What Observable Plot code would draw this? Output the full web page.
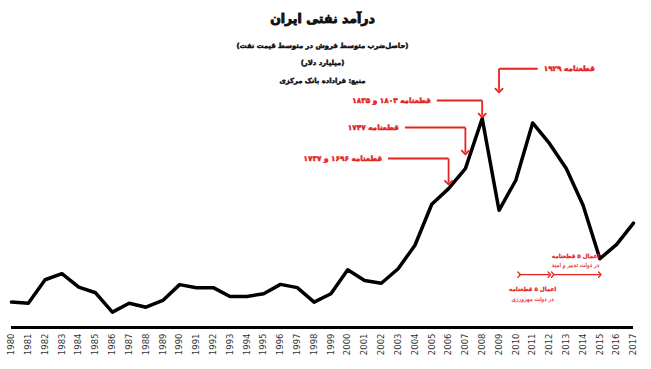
<!DOCTYPE html>
<html><head><meta charset="utf-8">
<script src="https://cdn.jsdelivr.net/npm/d3@7"></script>
<script src="https://cdn.jsdelivr.net/npm/@observablehq/plot@0.6"></script>
<style>body{margin:0;background:#fff;}</style>
</head><body><div id="chart"></div>
<script>
// Data: Iran oil revenue (billion USD)
const years = [1980,1981,1982,1983,1984,1985,1986,1987,1988,1989,1990,1991,1992,1993,1994,1995,1996,1997,1998,1999,2000,2001,2002,2003,2004,2005,2006,2007,2008,2009,2010,2011,2012,2013,2014,2015,2016,2017];
const revenue = [10.9,10.4,20.5,23.1,17.3,14.9,6.6,10.4,8.7,11.6,18.4,17.1,17.1,13.3,13.3,14.5,18.5,17.1,10.9,14.5,24.8,20.2,19.0,25.2,35.3,52.9,59.6,68.2,89.7,50.3,63.2,87.8,79.0,68.2,52.5,29.5,35.7,44.8];

const titleText = "درآمد نفتی ایران";
const subtitleLines = ["(حاصل‌ضرب متوسط فروش در متوسط قیمت نفت)", "(میلیارد دلار)", "منبع: فراداده بانک مرکزی"];

// Resolution annotations
const resolutionLabels = ["قطعنامه ۱۹۲۹", "قطعنامه ۱۸۰۳ و ۱۸۳۵", "قطعنامه ۱۷۴۷", "قطعنامه ۱۶۹۶ و ۱۷۳۷"];
const resolutionTargetYears = [2009, 2008, 2007, 2006];
const resolutionLabelYears = [2011.3, 2005.3, 2003.4, 2002.4];
const resolutionLabelLevels = [111, 97.4, 85.8, 72.5];
const resolutionTipLevels = [101.7, 91, 75.1, 62.2];

// Government periods
const periodStart = [2010.2, 2012.2];
const periodEnd = [2012, 2015];
const periodLevel = [22.7, 22.7];
const periodLine1 = ["اعمال ۵ قطعنامه", "اعمال ۵ قطعنامه"];
const periodLine2 = ["در دولت مهرورزی", "در دولت تدبیر و امید"];
const periodTextYear = [2011.0, 2013.55];
const periodTextLevels1 = [16.3, 30.5];
const periodTextLevels2 = [12.0, 26.6];

const data = years.map((y, i) => ({year: y, value: revenue[i]}));
const ann = resolutionLabels.map((l, i) => ({label: l, target: resolutionTargetYears[i], from: resolutionLabelYears[i], level: resolutionLabelLevels[i], tip: resolutionTipLevels[i]}));
const per = periodStart.map((s, i) => ({from: s, to: periodEnd[i], level: periodLevel[i], l1: periodLine1[i], l2: periodLine2[i], tx: periodTextYear[i], ty1: periodTextLevels1[i], ty2: periodTextLevels2[i]}));

const red = "#e3241f";
const ink = "#111";
const font = "DejaVu Sans";

const chart = Plot.plot({
  width: 651,
  height: 369,
  marginLeft: 11,
  marginRight: 18,
  marginTop: 94,
  marginBottom: 42,
  style: {fontFamily: font, background: "#fff", overflow: "visible"},
  x: {domain: [1980, 2017], label: null},
  y: {domain: [0, 100], axis: null},
  marks: [
    Plot.axisX({ticks: years, tickFormat: "d", tickRotate: -90, tickSize: 0, tickPadding: 6, fontSize: 8.5, fill: "#333", label: null}),
    Plot.ruleY([0], {stroke: "black", strokeWidth: 3}),
    Plot.line(data, {x: "year", y: "value", stroke: "black", strokeWidth: 3.5}),
    // resolution arrows
    Plot.link(ann, {x1: "from", x2: "target", y1: "level", y2: "level", stroke: red, strokeWidth: 2}),
    Plot.link(ann, {x1: "target", x2: "target", y1: "level", y2: "tip", stroke: red, strokeWidth: 1.8, markerEnd: "arrow"}),
    Plot.text(ann.slice(0, 1), {x: "from", y: "level", text: "label", textAnchor: "start", dx: 6, fill: red, stroke: red, strokeWidth: 0.5, fontWeight: "bold", fontSize: 7.3}),
    Plot.text(ann.slice(1), {x: "from", y: "level", text: "label", textAnchor: "end", dx: -6, fill: red, stroke: red, strokeWidth: 0.5, fontWeight: "bold", fontSize: 7.3}),
    // period arrows
    Plot.link(per, {x1: "from", x2: "to", y1: "level", y2: "level", stroke: red, strokeWidth: 1.3, markerStart: "arrow", markerEnd: "arrow"}),
    Plot.text(per, {x: "tx", y: "ty1", text: "l1", fill: red, stroke: red, strokeWidth: 0.25, fontWeight: "bold", fontSize: 5.6}),
    Plot.text(per, {x: "tx", y: "ty2", text: "l2", fill: red, stroke: red, strokeWidth: 0.15, fontSize: 5.6}),
    // titles
    Plot.text([titleText], {frameAnchor: "top", lineAnchor: "middle", dy: -76, fontSize: 12.5, fontWeight: "bold", fill: ink, stroke: ink, strokeWidth: 0.9}),
    Plot.text([subtitleLines[0]], {frameAnchor: "top", lineAnchor: "middle", dy: -49, fontSize: 6.8, fontWeight: "bold", fill: ink, stroke: ink, strokeWidth: 0.5}),
    Plot.text([subtitleLines[1]], {frameAnchor: "top", lineAnchor: "middle", dy: -32, fontSize: 6.8, fontWeight: "bold", fill: ink, stroke: ink, strokeWidth: 0.5}),
    Plot.text([subtitleLines[2]], {frameAnchor: "top", lineAnchor: "middle", dy: -14, fontSize: 6.8, fontWeight: "bold", fill: ink, stroke: ink, strokeWidth: 0.5})
  ]
});
document.getElementById("chart").append(chart);
</script>
</body></html>
